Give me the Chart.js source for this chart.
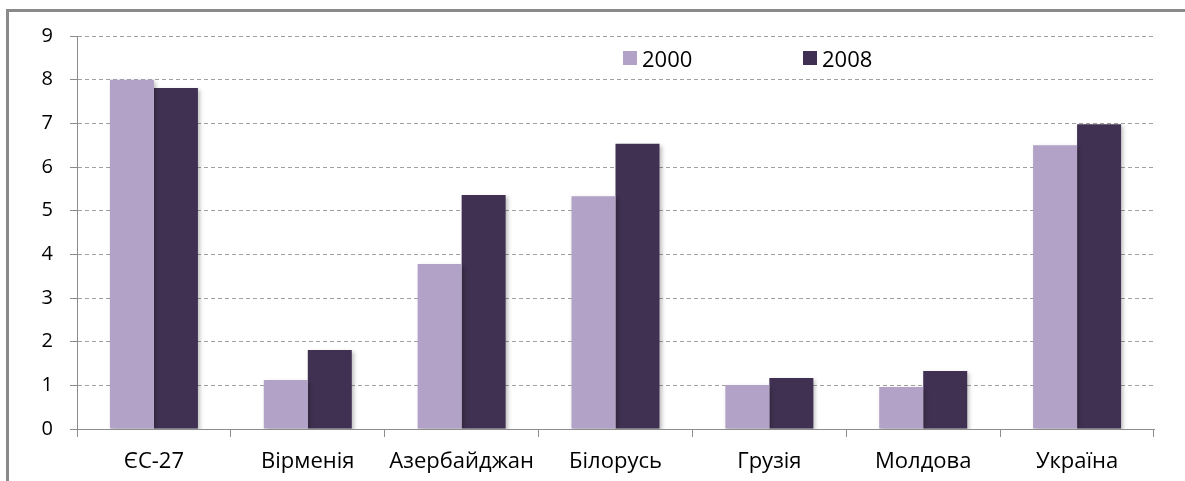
<!DOCTYPE html>
<html>
<head>
<meta charset="utf-8">
<script src="https://cdn.jsdelivr.net/npm/chart.js@4"></script>
<style>
    html, body { margin: 0; padding: 0; background: #fff; overflow: hidden; }
    #wrap { position: relative; width: 1185px; height: 481px; }
    #frame { position: absolute; left: 6px; top: 9px; width: 1300px; height: 600px; border-left: 3px solid #8a8a8a; border-top: 3px solid #8a8a8a; }
    #legend { position: absolute; top: 43px; left: 0; font-family: "Open Sans", sans-serif; font-size: 22px; color: #000; }
    .item { position: absolute; white-space: nowrap; display: flex; align-items: center; }
    .box { width: 14px; height: 14px; margin-right: 5px; }
</style>
</head>
<body>
<div id="wrap">
    <div id="frame"></div>
    <canvas id="chart" width="1185" height="481"></canvas>
    <div id="legend"></div>
</div>
<script>
// Data
const categories = ['ЄС-27', 'Вірменія', 'Азербайджан', 'Білорусь', 'Грузія', 'Молдова', 'Україна'];
const seriesNames = ['2000', '2008'];
const values2000 = [8.0, 1.12, 3.78, 5.33, 1.01, 0.96, 6.5];
const values2008 = [7.81, 1.81, 5.36, 6.53, 1.17, 1.33, 6.98];
const yTicks = [0, 1, 2, 3, 4, 5, 6, 7, 8, 9];

const colors = ['#b3a2c7', '#403152'];
const FONT = '"Open Sans", sans-serif';

// Legend di dalam area plot
const legendEl = document.getElementById('legend');
const legendX = [623, 803];
seriesNames.forEach((name, i) => {
    const item = document.createElement('div');
    item.className = 'item';
    item.style.left = legendX[i] + 'px';
    item.innerHTML = `<span class="box" style="background:${colors[i]}"></span><span>${name}</span>`;
    legendEl.appendChild(item);
});

// Bayangan tipis di bawah batang
const barShadow = {
    id: 'barShadow',
    beforeDatasetsDraw(chart) {
        const ctx = chart.ctx;
        ctx.save();
        ctx.shadowColor = 'rgba(0,0,0,0.25)';
        ctx.shadowBlur = 4;
        ctx.shadowOffsetX = 2;
        ctx.shadowOffsetY = 2;
    },
    afterDatasetsDraw(chart) {
        chart.ctx.restore();
    }
};

new Chart(document.getElementById('chart'), {
    type: 'bar',
    data: {
        labels: categories,
        datasets: [
            { label: seriesNames[0], data: values2000, backgroundColor: colors[0] },
            { label: seriesNames[1], data: values2008, backgroundColor: colors[1] }
        ]
    },
    options: {
        responsive: false,
        animation: false,
        categoryPercentage: 0.572,
        barPercentage: 1.0,
        layout: { padding: { top: 36, right: 31, bottom: 0, left: 0 } },
        plugins: {
            legend: { display: false },
            tooltip: { enabled: false }
        },
        scales: {
            x: {
                afterFit(scale) { scale.height = 52; },
                grid: {
                    offset: true,
                    drawOnChartArea: false,
                    drawTicks: true,
                    tickLength: 8,
                    color: '#8c8c8c'
                },
                border: { color: '#8c8c8c', width: 1 },
                ticks: {
                    color: '#000',
                    padding: 12,
                    font: { family: FONT, size: 22 }
                }
            },
            y: {
                min: 0,
                max: 9,
                afterFit(scale) { scale.width = 77; },
                afterBuildTicks(scale) { scale.ticks = yTicks.map(v => ({ value: v })); },
                grid: {
                    color: '#a0a0a0',
                    tickLength: 7,
                    tickColor: '#8c8c8c',
                    tickBorderDash: []
                },
                border: { color: '#8c8c8c', width: 1, dash: [4, 3] },
                ticks: {
                    color: '#000',
                    padding: 17,
                    font: { family: FONT, size: 20 }
                }
            }
        }
    },
    plugins: [barShadow]
});
</script>
</body>
</html>
